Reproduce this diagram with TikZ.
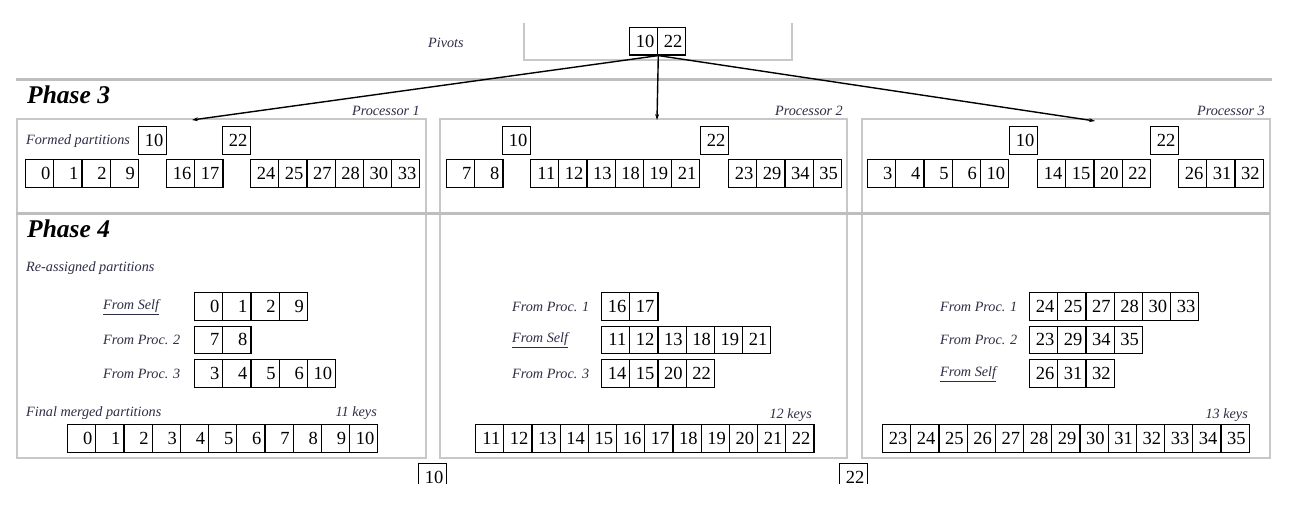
\documentclass[tikz,border=0pt]{standalone}
\usepackage{fontspec}
\setmainfont{Liberation Serif}
\usetikzlibrary{arrows.meta}
\definecolor{labcol}{RGB}{45,45,70}
\definecolor{framegray}{RGB}{200,200,200}
\definecolor{sepgray}{RGB}{190,190,190}
\newcommand\cellfont{\fontsize{18.5}{18.5}\selectfont}
\newcommand\labfont{\fontsize{14.2}{15}\selectfont\itshape}
\newcommand\phasefont{\fontsize{25.5}{26}\selectfont\bfseries\itshape}
\tikzset{
  cell/.style={draw, line width=1.1pt, minimum height=27.5pt, inner xsep=3.5pt, inner ysep=0pt,
     text width=21.2pt, align=right, font=\cellfont, anchor=north west, text depth=0pt},
  lab/.style={font=\labfont, text=labcol, inner sep=0pt},
  phase/.style={font=\phasefont, inner sep=0pt, anchor=west},
  panel/.style={draw=framegray, line width=1.4pt},
  sep/.style={draw=sepgray, line width=3pt},
  arr/.style={line width=1.4pt, -{Stealth[length=6pt,width=4pt]}}
}
\newcommand\cellrow[4]{%
  \foreach \v [count=\i] in {#4} {\node[cell] (#1-\i) at ({#2+(\i-1)*28.2},#3) {\v};}}
\begin{document}
\begin{tikzpicture}[x=1pt,y=-1pt]
\useasboundingbox (0,0) rectangle (1290,532);
\fill[white] (0,0) rectangle (1290,532);
% pivot frame
\draw[draw=framegray, line width=1.4pt] (524,23) -- (524,60) -- (792,60) -- (792,23);
\node[lab, anchor=west] (pivlab) at (428,43) {Pivots};
\node[cell] (pv10) at (629,27) {10};
\node[cell] (pv22) at (657,27) {22};
% separators
\draw[sep] (16,80) -- (1272,80);
% panels
\draw[panel] (17,119) rectangle (426,458);
\draw[panel] (440,119) rectangle (847,458);
\draw[panel] (862,119) rectangle (1270,458);
\draw[sep] (16,213) -- (1270,213);
% arrows
\coordinate (src) at (pv10.south east);
\coordinate (t1) at (192,120);
\coordinate (t2) at (657,120);
\coordinate (t3) at (1095,121);
\draw[arr] (src) -- (t1);
\draw[arr] (src) -- (t2);
\draw[arr] (src) -- (t3);
% phase titles
\node[phase] (ph3) at (27,95) {Phase 3};
\node[phase] (ph4) at (27,229) {Phase 4};
\node[lab, anchor=east] (proc1) at (420,111) {Processor 1};
\node[lab, anchor=east] (proc2) at (843,111) {Processor 2};
\node[lab, anchor=east] (proc3) at (1265,111) {Processor 3};
% Phase 3 panel 1
\node[lab, anchor=west] (formed) at (26,141) {Formed partitions};
\node[cell] (a10) at (138,126) {10};
\node[cell] (a22) at (222,126) {22};
\cellrow{aa}{25}{159}{0,1,2,9}
\cellrow{ab}{166}{159}{16,17}
\cellrow{ac}{250}{159}{24,25,27,28,30,33}
% Phase 3 panel 2
\node[cell] (b10) at (502,126) {10};
\node[cell] (b22) at (700,126) {22};
\cellrow{ba}{446}{159}{7,8}
\cellrow{bb}{530}{159}{11,12,13,18,19,21}
\cellrow{bc}{728}{159}{23,29,34,35}
% Phase 3 panel 3
\node[cell] (c10) at (1009,126) {10};
\node[cell] (c22) at (1150,126) {22};
\cellrow{ca}{867}{159}{3,4,5,6,10}
\cellrow{cb}{1037}{159}{14,15,20,22}
\cellrow{cc}{1178}{159}{26,31,32}
% Phase 4 panel 1
\node[lab, anchor=west] (reas) at (26,268) {Re-assigned partitions};
\node[lab, anchor=west] (l11) at (103,307) {\underline{From Self}};
\node[lab, anchor=west] (l12) at (103,340) {From Proc. 2};
\node[lab, anchor=west] (l13) at (103,374) {From Proc. 3};
\cellrow{da}{194}{292}{0,1,2,9}
\cellrow{db}{194}{325.5}{7,8}
\cellrow{dc}{194}{359}{3,4,5,6,10}
\node[lab, anchor=west] (final) at (26,413) {Final merged partitions};
\node[lab, anchor=east] (k11) at (377,413) {11 keys};
\cellrow{dd}{67}{424}{0,1,2,3,4,5,6,7,8,9,10}
% Phase 4 panel 2
\node[lab, anchor=west] (l21) at (512,307) {From Proc. 1};
\node[lab, anchor=west] (l22) at (512,340) {\underline{From Self}};
\node[lab, anchor=west] (l23) at (512,374) {From Proc. 3};
\cellrow{ea}{601}{292}{16,17}
\cellrow{eb}{601}{325.5}{11,12,13,18,19,21}
\cellrow{ec}{601}{359}{14,15,20,22}
\node[lab, anchor=east] (k12) at (812,415) {12 keys};
\cellrow{ed}{475}{424}{11,12,13,14,15,16,17,18,19,20,21,22}
% Phase 4 panel 3
\node[lab, anchor=west] (l31) at (940,307) {From Proc. 1};
\node[lab, anchor=west] (l32) at (940,340) {From Proc. 2};
\node[lab, anchor=west] (l33) at (940,374) {\underline{From Self}};
\cellrow{fa}{1029}{292}{24,25,27,28,30,33}
\cellrow{fb}{1029}{325.5}{23,29,34,35}
\cellrow{fc}{1029}{359}{26,31,32}
\node[lab, anchor=east] (k13) at (1248,415) {13 keys};
\cellrow{fd}{882}{424}{23,24,25,26,27,28,29,30,31,32,33,34,35}
% clipped boxes at the bottom
\begin{scope}
\clip (0,0) rectangle (1290,483);
\node[cell] (g10) at (418,463) {10};
\node[cell] (g22) at (839,463) {22};
\end{scope}
\end{tikzpicture}
\end{document}
